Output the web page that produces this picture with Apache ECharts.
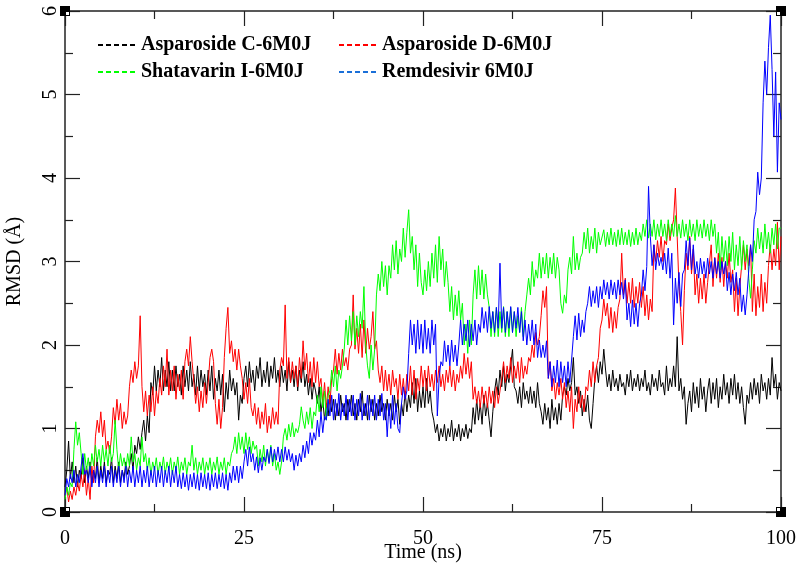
<!DOCTYPE html>
<html>
<head>
<meta charset="utf-8">
<script src="https://cdn.jsdelivr.net/npm/echarts@6/dist/echarts.min.js"></script>
<style>
html,body{margin:0;padding:0;background:#fff;}
#c{width:796px;height:567px;}
</style>
</head>
<body>
<div id="c"></div>
<script>
// time step (ns) between samples
const STEP = 0.25;
const seriesNames = ['Asparoside C-6M0J', 'Asparoside D-6M0J', 'Shatavarin I-6M0J', 'Remdesivir 6M0J'];
const xTicks = [0, 25, 50, 75, 100];
const yTicks = [0, 1, 2, 3, 4, 5, 6];

const asparosideC = [
  0.3,0.5,0.85,0.4,0.6,0.35,0.55,0.3,0.5,0.4,0.65,0.35,0.55,0.4,0.6,0.35,0.5,0.4,0.65,0.35,
  0.55,0.4,0.6,0.35,0.5,0.45,0.65,0.35,0.55,0.4,0.6,0.35,0.5,0.4,0.6,0.45,0.55,0.7,0.5,0.8,
  0.7,0.9,0.75,0.95,1.1,0.85,1.15,0.95,1.55,1.4,1.75,1.45,1.7,1.5,1.85,1.45,1.7,1.5,1.8,1.45,
  1.7,1.45,1.75,1.5,1.65,1.4,1.75,1.5,1.7,1.45,1.8,1.5,1.65,1.4,1.75,1.45,1.7,1.5,1.65,1.4,
  1.7,1.45,1.75,1.35,1.6,1.45,1.7,1.4,1.65,1.2,1.55,1.35,1.7,1.45,1.6,1.4,1.55,1.1,1.4,1.3,
  1.6,1.75,1.5,1.8,1.55,1.7,1.45,1.75,1.6,1.85,1.5,1.7,1.55,1.8,1.5,1.75,1.6,1.85,1.55,1.7,
  1.5,1.75,1.55,1.7,1.45,1.8,1.55,1.7,1.5,1.75,1.45,1.7,1.55,1.8,1.5,1.65,1.4,1.6,1.35,1.55,
  1.45,1.3,1.5,1.2,1.35,1.1,1.3,1.15,1.4,1.2,1.35,1.1,1.3,1.15,1.4,1.2,1.3,1.1,1.35,1.2,
  1.4,1.15,1.3,1.1,1.35,1.2,1.45,1.15,1.3,1.1,1.4,1.2,1.35,1.1,1.3,1.15,1.4,1.2,1.3,1.1,
  1.35,1.15,1.3,1.1,1.4,1.2,1.35,1.05,1.3,1.15,1.45,1.2,1.4,1.25,1.55,1.3,1.6,1.2,1.45,1.25,
  1.5,1.25,1.6,1.3,1.45,1.2,1.1,0.95,1.05,0.85,1.0,0.9,1.05,0.85,1.0,0.9,1.1,0.85,1.0,0.9,
  1.05,0.85,1.0,0.9,1.05,0.88,1.0,0.95,1.25,1.05,1.35,1.1,1.3,1.05,1.4,1.15,1.3,1.1,0.9,1.2,
  1.45,1.6,1.4,1.7,1.5,1.75,1.45,1.65,1.55,1.75,1.95,1.5,1.45,1.3,1.5,1.25,1.55,1.35,1.45,1.3,
  1.5,1.3,1.45,1.25,1.55,1.3,1.2,1.05,1.3,1.1,1.25,1.0,1.35,1.1,1.25,1.05,1.3,1.1,1.4,1.5,
  1.4,1.6,1.45,1.55,1.85,1.4,1.5,1.3,1.45,1.15,1.35,1.2,1.4,1.1,1.0,1.3,1.6,1.75,1.55,1.8,
  1.65,1.95,1.7,1.5,1.65,1.45,1.7,1.5,1.6,1.45,1.65,1.5,1.55,1.4,1.65,1.5,1.7,1.45,1.6,1.5,
  1.65,1.45,1.6,1.5,1.7,1.45,1.55,1.4,1.65,1.5,1.6,1.45,1.7,1.5,1.55,1.4,1.75,1.45,1.6,1.5,
  1.75,1.5,2.1,1.45,1.6,1.35,1.5,1.05,1.3,1.45,1.2,1.55,1.3,1.5,1.25,1.6,1.35,1.5,1.2,1.45,
  1.6,1.3,1.55,1.35,1.6,1.25,1.5,1.35,1.65,1.4,1.55,1.3,1.6,1.4,1.65,1.35,1.55,1.3,1.5,1.25,
  1.05,1.4,1.3,1.55,1.35,1.6,1.4,1.55,1.3,1.65,1.45,1.55,1.35,1.6,1.4,1.85,1.5,1.65,1.35,1.55,
  1.45
];
const asparosideD = [
  0.2,0.3,0.12,0.25,0.15,0.3,0.2,0.35,0.25,0.45,0.3,0.5,0.2,0.4,0.15,0.55,0.35,0.9,1.1,0.95,
  1.2,0.9,1.1,0.75,0.85,0.7,0.9,1.25,1.05,1.35,1.1,1.3,1.0,1.2,1.05,1.15,1.5,1.7,1.55,1.8,
  1.6,1.75,2.35,1.5,1.2,1.45,1.15,1.4,1.2,1.5,1.15,1.45,1.3,1.6,1.4,1.75,1.5,1.95,1.4,1.7,
  1.45,1.75,1.35,1.65,1.45,1.7,1.35,1.8,1.95,1.75,2.1,1.8,1.55,1.3,1.5,1.2,1.45,1.25,1.55,1.3,
  1.55,1.85,1.95,1.8,1.3,1.05,1.35,1.0,1.25,1.85,2.2,2.45,1.9,2.05,1.8,1.95,1.7,1.95,1.75,1.6,
  1.35,1.55,1.3,1.6,1.25,1.15,1.3,1.05,1.25,1.0,1.2,1.05,1.3,0.95,1.15,1.0,1.25,1.05,1.2,1.05,
  1.7,1.85,1.75,2.48,1.6,1.85,1.55,1.8,1.6,1.75,1.5,1.85,1.6,2.05,1.7,1.9,1.55,1.8,1.5,1.85,
  1.55,1.8,1.5,1.6,1.3,1.55,1.25,1.5,1.3,1.6,1.7,1.95,1.65,1.9,1.7,1.95,1.75,1.85,1.7,1.95,
  2.0,2.6,1.95,2.2,1.9,2.25,1.85,2.3,1.9,2.2,1.95,2.1,2.4,1.95,2.05,1.7,1.55,1.75,1.45,1.7,
  1.45,1.65,1.4,1.7,1.5,1.6,1.35,1.65,1.4,1.6,1.35,1.65,1.45,1.75,1.4,1.7,1.35,1.6,1.45,1.75,
  1.5,1.7,1.45,1.75,1.5,1.65,1.45,1.7,1.55,1.75,1.5,1.65,1.45,1.7,1.55,1.75,1.5,1.7,1.45,1.65,
  1.55,1.75,1.6,1.9,1.65,1.85,1.6,1.8,1.35,1.5,1.3,1.45,1.25,1.5,1.3,1.45,1.25,1.5,1.3,1.45,
  1.25,1.5,1.3,1.45,1.6,1.8,1.55,1.75,1.6,1.85,1.55,1.75,1.6,1.8,1.55,1.85,1.6,1.75,1.65,1.85,
  1.8,2.0,1.85,2.15,2.0,2.1,2.35,2.65,2.45,2.7,1.6,1.8,1.45,1.6,1.35,1.55,1.4,1.6,1.35,1.55,
  1.25,1.45,1.2,1.5,1.0,1.35,1.2,1.5,1.25,1.4,1.2,1.5,1.45,1.7,1.5,1.8,1.55,1.75,1.85,2.2,
  2.3,2.55,2.35,2.5,2.2,2.45,2.15,2.4,2.2,2.45,2.55,3.1,2.6,2.8,2.5,2.75,2.5,2.8,2.45,2.7,
  2.5,2.75,2.45,2.7,2.35,2.6,2.3,2.55,2.4,3.2,3.0,3.25,3.05,3.3,3.0,3.25,3.2,3.45,3.25,3.4,
  3.5,3.88,3.3,2.7,2.4,2.0,2.65,3.1,2.9,3.3,2.85,3.15,2.6,2.85,2.5,2.8,2.55,2.85,2.5,2.75,
  2.75,3.2,2.7,3.05,2.8,3.1,2.75,3.05,2.7,3.0,2.8,3.1,2.75,2.9,2.4,2.8,2.35,2.7,2.95,3.2,
  2.9,3.15,2.95,3.2,2.4,2.85,2.35,2.7,2.45,2.85,2.4,2.75,2.5,2.95,3.2,2.9,3.15,2.95,3.47,2.9,
  3.3
];
const shatavarinI = [
  0.15,0.3,0.2,0.35,0.3,0.75,1.08,0.8,0.95,0.7,0.45,0.7,0.5,0.65,0.45,0.7,0.55,0.8,0.6,0.75,
  0.55,0.8,0.6,0.75,0.55,0.8,0.6,0.7,1.1,0.75,0.5,0.7,0.55,0.65,0.5,0.7,0.55,0.9,0.6,0.7,
  0.5,0.65,0.55,0.9,0.6,0.7,0.5,0.65,0.45,0.6,0.5,0.65,0.45,0.6,0.5,0.66,0.45,0.6,0.5,0.65,
  0.45,0.6,0.5,0.66,0.45,0.6,0.5,0.65,0.45,0.6,0.55,0.8,0.5,0.65,0.45,0.6,0.5,0.65,0.45,0.6,
  0.5,0.65,0.45,0.6,0.5,0.66,0.45,0.6,0.5,0.65,0.45,0.6,0.55,0.7,0.75,0.9,0.7,0.95,0.75,0.9,
  0.7,0.95,0.75,0.9,0.7,0.85,0.75,0.8,0.55,0.75,0.6,0.8,0.55,0.75,0.6,0.8,0.55,0.7,0.5,0.6,
  0.45,0.6,0.9,1.0,0.86,1.05,0.9,1.07,0.9,1.0,0.95,1.05,1.26,1.1,1.0,1.2,1.05,1.25,1.0,1.2,
  1.15,1.4,1.2,1.5,1.25,1.45,1.1,1.4,1.45,1.7,1.5,1.75,1.45,1.7,1.6,1.75,1.95,2.3,2.0,2.35,
  2.05,2.4,2.0,2.35,2.1,2.4,2.2,2.7,2.0,1.75,1.6,2.0,1.7,1.95,2.6,2.85,2.65,3.0,2.7,2.95,
  2.6,2.95,2.8,3.2,2.9,3.25,2.85,3.15,3.0,3.4,3.05,3.35,3.62,3.1,3.3,2.9,3.2,2.7,3.1,2.75,
  2.6,2.9,2.65,3.0,2.7,3.1,2.8,3.2,2.75,3.3,2.9,3.15,2.7,3.0,2.75,2.4,2.7,2.3,2.6,2.35,
  2.65,2.3,2.5,2.0,2.25,1.9,2.3,2.0,2.6,2.9,2.55,2.95,2.6,2.9,2.55,2.85,2.6,2.45,2.1,2.4,
  2.1,2.45,2.1,2.4,2.15,2.46,2.1,2.4,2.1,2.45,2.15,2.4,2.1,2.35,2.15,2.45,2.1,2.4,2.6,2.8,
  2.6,3.0,2.7,2.9,2.8,3.1,2.8,3.05,2.85,3.1,2.8,3.05,2.85,3.1,2.8,3.05,2.9,2.5,2.38,2.6,
  2.5,2.9,3.05,2.85,3.3,2.9,3.1,2.9,3.05,3.1,3.35,3.15,3.4,3.1,3.3,3.15,3.4,3.1,3.35,3.2,
  3.2,3.38,3.18,3.35,3.2,3.4,3.2,3.35,3.18,3.38,3.2,3.4,3.2,3.35,3.2,3.38,3.18,3.35,3.2,3.4,
  3.2,3.35,3.25,3.45,3.3,3.5,3.28,3.45,3.3,3.5,3.26,3.45,3.3,3.5,3.3,3.45,3.25,3.5,3.3,3.45,
  3.3,3.55,3.3,3.45,3.28,3.5,3.3,3.45,3.25,3.5,3.3,3.45,3.25,3.5,3.3,3.45,3.28,3.5,3.3,3.45,
  3.25,3.5,3.3,3.45,3.1,3.35,2.9,3.3,3.0,3.25,2.95,3.3,3.0,3.35,2.9,3.2,2.95,3.3,2.9,3.25,
  3.0,3.2,2.8,2.56,2.9,3.25,3.1,3.4,3.15,3.35,3.1,3.45,3.15,3.35,3.1,3.4,3.2,3.45,3.15,3.4,
  3.4
];
const remdesivir = [
  0.2,0.4,0.3,0.45,0.35,0.5,0.3,0.45,0.35,0.55,0.7,0.45,0.5,0.35,0.55,0.3,0.5,0.35,0.55,0.3,
  0.5,0.35,0.55,0.3,0.5,0.35,0.55,0.3,0.5,0.35,0.55,0.3,0.5,0.35,0.55,0.3,0.5,0.35,0.55,0.3,
  0.5,0.35,0.55,0.3,0.5,0.35,0.55,0.3,0.5,0.35,0.55,0.3,0.5,0.35,0.55,0.3,0.5,0.35,0.55,0.3,
  0.5,0.35,0.55,0.3,0.45,0.28,0.47,0.3,0.45,0.26,0.45,0.3,0.47,0.28,0.45,0.26,0.47,0.3,0.45,0.28,
  0.47,0.26,0.45,0.3,0.47,0.28,0.45,0.3,0.47,0.28,0.45,0.26,0.47,0.35,0.55,0.38,0.55,0.35,0.55,0.4,
  0.6,0.75,0.55,0.78,0.6,0.7,0.5,0.66,0.47,0.65,0.5,0.66,0.6,0.75,0.58,0.78,0.6,0.75,0.62,0.78,
  0.6,0.75,0.6,0.78,0.62,0.75,0.6,0.7,0.5,0.68,0.55,0.7,0.6,0.8,0.65,0.85,0.7,0.95,0.8,0.95,
  0.86,1.1,0.9,1.2,0.95,1.15,1.1,1.35,1.15,1.4,1.1,1.35,1.15,1.42,1.1,1.3,1.15,1.4,1.1,1.35,
  1.15,1.4,1.1,1.35,1.15,1.42,1.1,1.3,1.15,1.4,1.1,1.35,1.15,1.4,1.1,1.35,1.15,1.42,1.1,1.3,
  0.9,1.3,1.0,1.4,1.05,1.3,1.0,0.95,1.3,1.5,1.35,1.45,1.9,2.3,2.0,2.25,1.9,2.3,1.95,2.25,
  1.9,2.3,1.95,2.2,1.9,2.3,2.0,2.25,1.15,1.6,1.8,1.75,2.05,1.8,2.0,1.75,2.06,1.8,2.0,1.75,
  2.0,2.3,2.0,2.25,2.05,2.3,1.98,2.25,2.05,2.3,2.0,2.25,2.15,2.45,2.2,2.4,2.15,2.46,2.2,2.4,
  2.15,2.45,2.2,2.98,2.2,2.45,2.15,2.4,2.2,2.46,2.15,2.4,2.2,2.45,2.15,2.4,2.05,2.3,2.0,2.25,
  2.05,2.3,2.0,2.25,1.85,2.06,1.85,2.0,1.85,2.05,1.6,1.8,1.5,1.75,1.55,1.82,1.5,1.8,1.55,1.75,
  1.5,1.8,1.55,1.82,2.1,2.35,2.06,2.38,2.1,2.3,2.15,2.4,2.5,2.7,2.46,2.65,2.5,2.7,2.45,2.7,
  2.55,2.78,2.6,2.75,2.55,2.78,2.6,2.75,2.55,2.78,2.6,2.75,2.55,2.78,2.3,2.5,2.22,2.54,2.25,2.5,
  2.22,2.5,2.6,2.9,2.65,2.94,3.9,3.3,2.95,3.2,2.9,3.1,2.95,3.05,2.9,3.1,2.85,3.16,2.8,3.1,
  2.24,2.8,2.5,2.87,2.46,2.85,2.9,3.25,2.95,3.28,2.9,3.2,2.85,3.0,2.8,3.04,2.85,3.0,2.8,3.04,
  2.85,3.0,2.8,3.04,2.85,3.0,2.8,3.0,2.85,3.0,2.65,2.87,2.6,2.85,2.65,2.87,2.6,2.8,2.4,2.6,
  2.36,2.6,2.9,3.2,3.0,3.5,3.6,4.07,3.8,4.0,4.9,5.4,5.0,5.56,5.95,5.3,4.5,5.27,4.07,4.9,
  4.7
];
const seriesColors = ['#000000', '#ff0000', '#00ff00', '#0000ff'];
const legendIconColors = ['#000000', '#ff0000', '#00ff00', '#1a6fd8'];
const allValues = [asparosideC, asparosideD, shatavarinI, remdesivir];

const FONT = 'Liberation Serif';
const chart = echarts.init(document.getElementById('c'), null, {renderer: 'canvas'});

function toPairs(arr) { return arr.map((v, i) => [i * STEP, v]); }

const axisLineStyle = {color: '#222', width: 1.5};
function xAxisCfg(pos, showLabels) {
  return {
    type: 'value', position: pos, min: 0, max: 100, interval: 25,
    axisLine: {show: true, onZero: false, lineStyle: axisLineStyle},
    axisTick: {show: true, inside: true, length: 15, lineStyle: {color: '#222', width: 1.2}},
    minorTick: {show: true, splitNumber: 2, length: 8, lineStyle: {color: '#222', width: 1.2}},
    splitLine: {show: false},
    axisLabel: {show: showLabels, fontFamily: FONT, fontSize: 20, color: '#000', margin: 17},
    name: showLabels ? 'Time (ns)' : '', nameLocation: 'middle', nameGap: 31, nameMoveOverlap: false,
    nameTextStyle: {fontFamily: FONT, fontSize: 20, color: '#000'}
  };
}
function yAxisCfg(pos, showLabels) {
  return {
    type: 'value', position: pos, min: 0, max: 6, interval: 1,
    axisLine: {show: true, onZero: false, lineStyle: axisLineStyle},
    axisTick: {show: true, inside: true, length: 15, lineStyle: {color: '#222', width: 1.2}},
    minorTick: {show: true, splitNumber: 2, length: 8, lineStyle: {color: '#222', width: 1.2}},
    splitLine: {show: false},
    axisLabel: {show: showLabels, fontFamily: FONT, fontSize: 20, color: '#000', rotate: 90, margin: 4},
    name: showLabels ? 'RMSD (Å)' : '', nameLocation: 'middle', nameGap: 40, nameRotate: 90,
    nameTextStyle: {fontFamily: FONT, fontSize: 20, color: '#000'}
  };
}

const legendPos = [[97, 35], [338, 35], [97, 62], [338, 62]];
const legends = seriesNames.map((n, i) => ({
  show: true,
  data: [n], left: legendPos[i][0], top: legendPos[i][1], orient: 'horizontal',
  itemWidth: 38, itemHeight: 14, itemGap: 5, padding: 0,
  lineStyle: {type: [5, 3], width: 2, color: legendIconColors[i]},
  itemStyle: {color: 'rgba(0,0,0,0)', borderColor: 'rgba(0,0,0,0)', borderWidth: 0},
  textStyle: {fontFamily: FONT, fontSize: 20, fontWeight: 'bold', color: '#000'},
  selectedMode: false
}));

const option = {
  animation: false,
  backgroundColor: '#fff',
  grid: {left: 65, right: 15, top: 11, bottom: 55, containLabel: false, outerBoundsMode: 'none'},
  xAxis: [xAxisCfg('bottom', true), xAxisCfg('top', false)],
  yAxis: [yAxisCfg('left', true), yAxisCfg('right', false)],
  legend: legends,
  series: allValues.map((arr, i) => ({
    name: seriesNames[i], type: 'line', xAxisIndex: 0, yAxisIndex: 0,
    data: toPairs(arr), showSymbol: false, symbol: 'none',
    lineStyle: {color: seriesColors[i], width: 1},
    itemStyle: {color: seriesColors[i]},
    z: 2 + i
  }))
};
chart.setOption(option);

// corner squares, placed through the axes' own scale
const corners = [[0, 0, 1, -1], [100, 0, -1, -1], [0, 6, 1, 1], [100, 6, -1, 1]];
const g = [];
corners.forEach(c => {
  const p = chart.convertToPixel({xAxisIndex: 0, yAxisIndex: 0}, [c[0], c[1]]);
  g.push({type: 'rect', shape: {x: p[0] - 5, y: p[1] - 5, width: 10, height: 10}, style: {fill: '#000'}, z: 100});
  const ix = c[2] > 0 ? p[0] + 1 : p[0] - 4;
  const iy = c[3] > 0 ? p[1] + 1 : p[1] - 4;
  g.push({type: 'rect', shape: {x: ix, y: iy, width: 3, height: 3}, style: {fill: '#fff'}, z: 101});
});
chart.setOption({graphic: g});
</script>
</body>
</html>
